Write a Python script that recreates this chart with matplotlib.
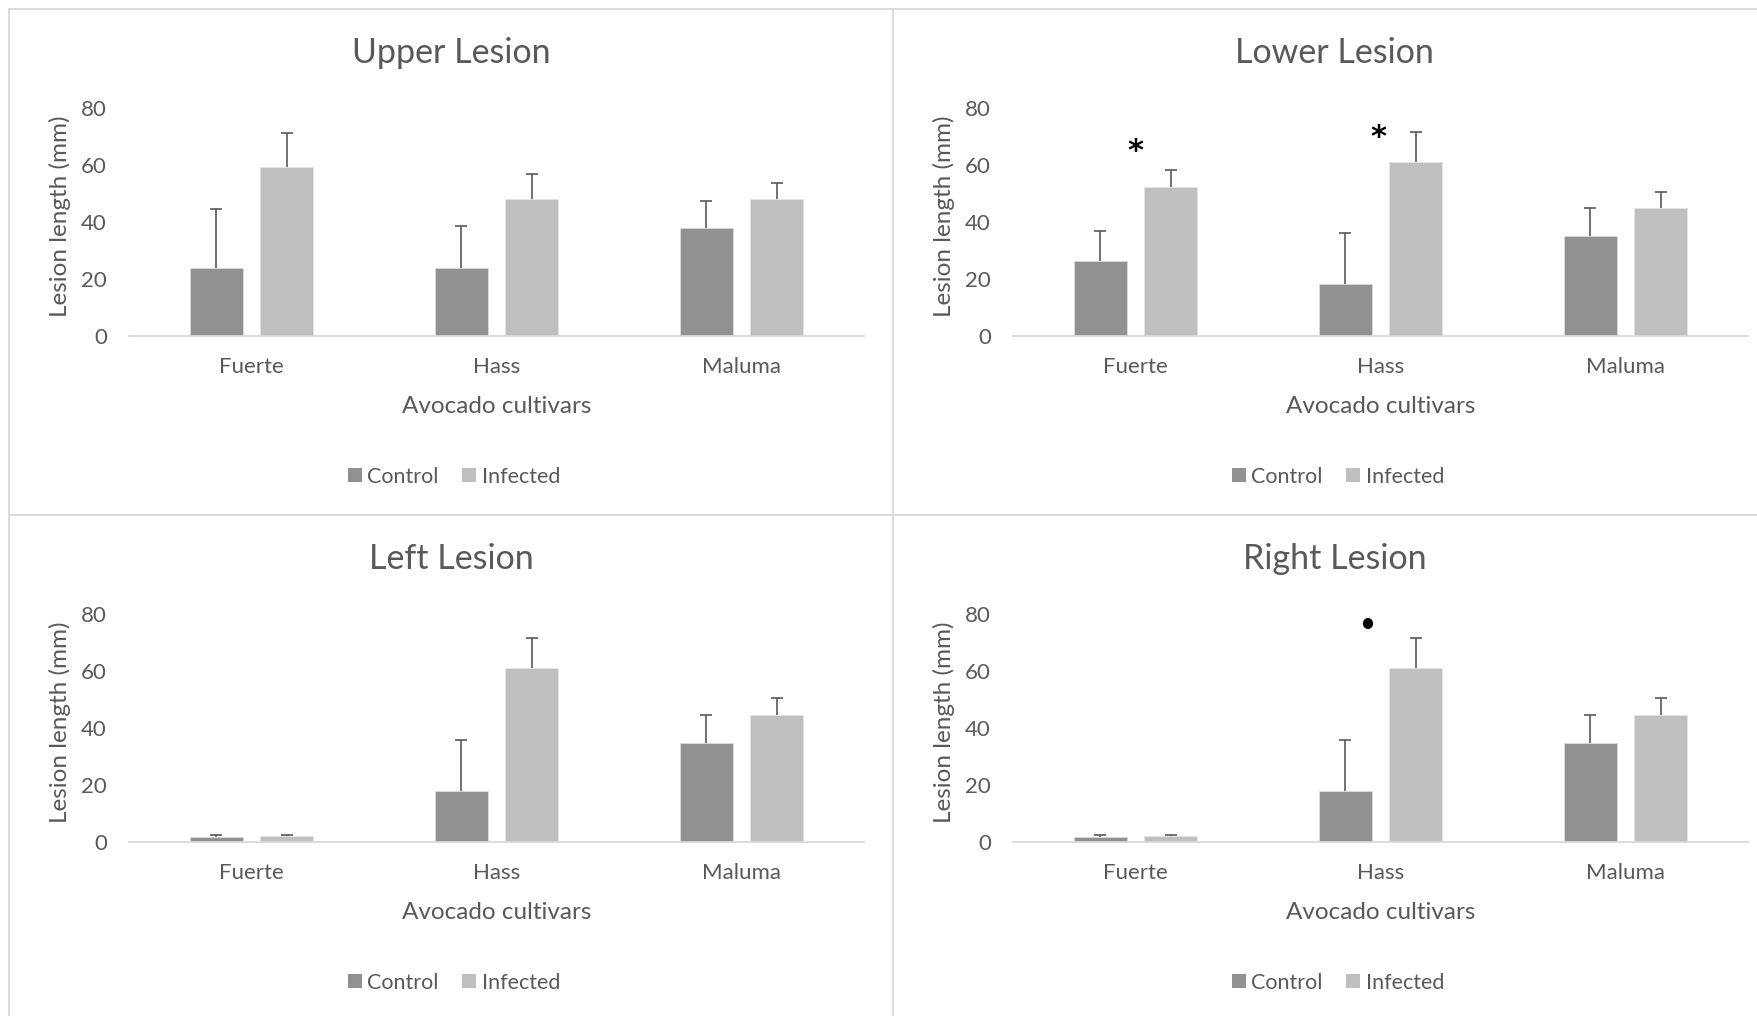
import matplotlib
matplotlib.use("Agg")
import matplotlib.pyplot as plt
from matplotlib.lines import Line2D
from matplotlib.patches import Patch
import numpy as np

plt.rcParams["font.family"] = ["Lato", "DejaVu Sans"]

# data
cultivars = ["Fuerte", "Hass", "Maluma"]
series = ["Control", "Infected"]
panel_titles = ["Upper Lesion", "Lower Lesion", "Left Lesion", "Right Lesion"]

upper_ctrl = [23.7, 23.7, 38.0]
upper_ctrl_err = [21.0, 15.0, 9.3]
upper_inf = [59.2, 48.1, 48.1]
upper_inf_err = [12.2, 8.8, 5.5]

lower_ctrl = [26.2, 18.2, 35.1]
lower_ctrl_err = [10.7, 17.8, 9.8]
lower_inf = [52.3, 61.2, 44.9]
lower_inf_err = [6.1, 10.4, 5.6]

left_ctrl = [1.6, 17.9, 34.7]
left_ctrl_err = [0.7, 18.0, 9.9]
left_inf = [1.9, 61.0, 44.6]
left_inf_err = [0.4, 10.6, 5.9]

right_ctrl = [1.6, 17.9, 34.7]
right_ctrl_err = [0.7, 18.0, 9.9]
right_inf = [1.9, 61.0, 44.6]
right_inf_err = [0.4, 10.6, 5.9]

# significance marks: (panel, cultivar index, x offset, y, marker text)
marks = [(1, 0, 0.0, 67.7, "*"), (1, 1, -0.01, 72.4, "*"), (3, 1, -0.055, 76.6, "•")]

panels = [
    (upper_ctrl, upper_ctrl_err, upper_inf, upper_inf_err),
    (lower_ctrl, lower_ctrl_err, lower_inf, lower_inf_err),
    (left_ctrl, left_ctrl_err, left_inf, left_inf_err),
    (right_ctrl, right_ctrl_err, right_inf, right_inf_err),
]

C_CTRL = "#919191"
C_INF = "#bfbfbf"
C_TXT = "#595959"
C_GRID = "#d9d9d9"

W, H = 1758, 1016
fig = plt.figure(figsize=(W / 100, H / 100), dpi=100)

# panel frame lines (pixel coords, top origin)
def fig_line(x0, y0, x1, y1):
    fig.add_artist(Line2D([x0 / W, x1 / W], [1 - y0 / H, 1 - y1 / H], color=C_GRID, lw=1.3))

fig_line(9, 9, W, 9)
fig_line(9, 9, 9, H)
fig_line(893, 9, 893, H)
fig_line(9, 515, W, 515)

ax_w, ax_h = 735, 227.4
x = np.arange(len(cultivars))
bw, off = 0.22, 0.143

for k, (ctrl, ctrl_e, inf, inf_e) in enumerate(panels):
    dx = 884 * (k % 2)
    dy = 506 * (k // 2)
    left = 129 + dx
    top = 108.3 + dy
    ax = fig.add_axes([left / W, 1 - (top + ax_h) / H, ax_w / W, ax_h / H])

    ax.bar(x - off, ctrl, bw, color=C_CTRL, edgecolor="#dcdcdc", lw=0.6, zorder=2)
    ax.bar(x + off, inf, bw, color=C_INF, edgecolor="#e4e4e4", lw=0.6, zorder=2)
    for xs, vals, errs in [(x - off, ctrl, ctrl_e), (x + off, inf, inf_e)]:
        eb = ax.errorbar(xs, vals, yerr=[np.zeros(len(errs)), errs], fmt="none",
                         ecolor=C_TXT, elinewidth=1.2, capsize=4.3, capthick=1.2, zorder=3)
        eb[1][0].set_visible(False)

    ax.set_xlim(-0.5, 2.5)
    ax.set_ylim(0, 80)
    ax.set_yticks([0, 20, 40, 60, 80])
    ax.set_xticks(x)
    ax.set_xticklabels(cultivars)
    for s in ["top", "right", "left"]:
        ax.spines[s].set_visible(False)
    ax.spines["bottom"].set_color(C_GRID)
    ax.spines["bottom"].set_linewidth(1.3)
    ax.tick_params(axis="both", length=0, labelsize=16, labelcolor=C_TXT)
    ax.tick_params(axis="y", pad=16)
    ax.tick_params(axis="x", pad=15)

    ax.text(0.438, 1 + 55 / ax_h, panel_titles[k], transform=ax.transAxes, ha="center",
            va="center", fontsize=24.5, color=C_TXT)
    ax.text(0.5, -71 / ax_h, "Avocado cultivars", transform=ax.transAxes, ha="center",
            va="center", fontsize=17.5, color=C_TXT)
    ax.text(-69 / ax_w, 0.524, "Lesion length (mm)", transform=ax.transAxes, ha="center",
            va="center", rotation=90, fontsize=17.5, color=C_TXT)

    handles = [Patch(facecolor=C_CTRL), Patch(facecolor=C_INF)]
    ax.legend(handles, series, loc="center", bbox_to_anchor=(0.442, -141 / ax_h), ncol=2,
              frameon=False, fontsize=15.5, labelcolor=C_TXT, handlelength=0.65,
              handleheight=0.65, handletextpad=0.25, columnspacing=1.1)

    for p, ci, o, yv, m in marks:
        if p == k:
            if m == "*":
                ax.annotate(m, (ci + o, yv), xytext=(0, -8), textcoords="offset pixels",
                            ha="center", va="center", fontsize=22, fontweight="bold",
                            color="black", family="DejaVu Sans", annotation_clip=False)
            else:
                ax.annotate(m, (ci + o, yv), ha="center", va="center", fontsize=20,
                            color="black", annotation_clip=False)

fig.savefig("out.png", dpi=100)
